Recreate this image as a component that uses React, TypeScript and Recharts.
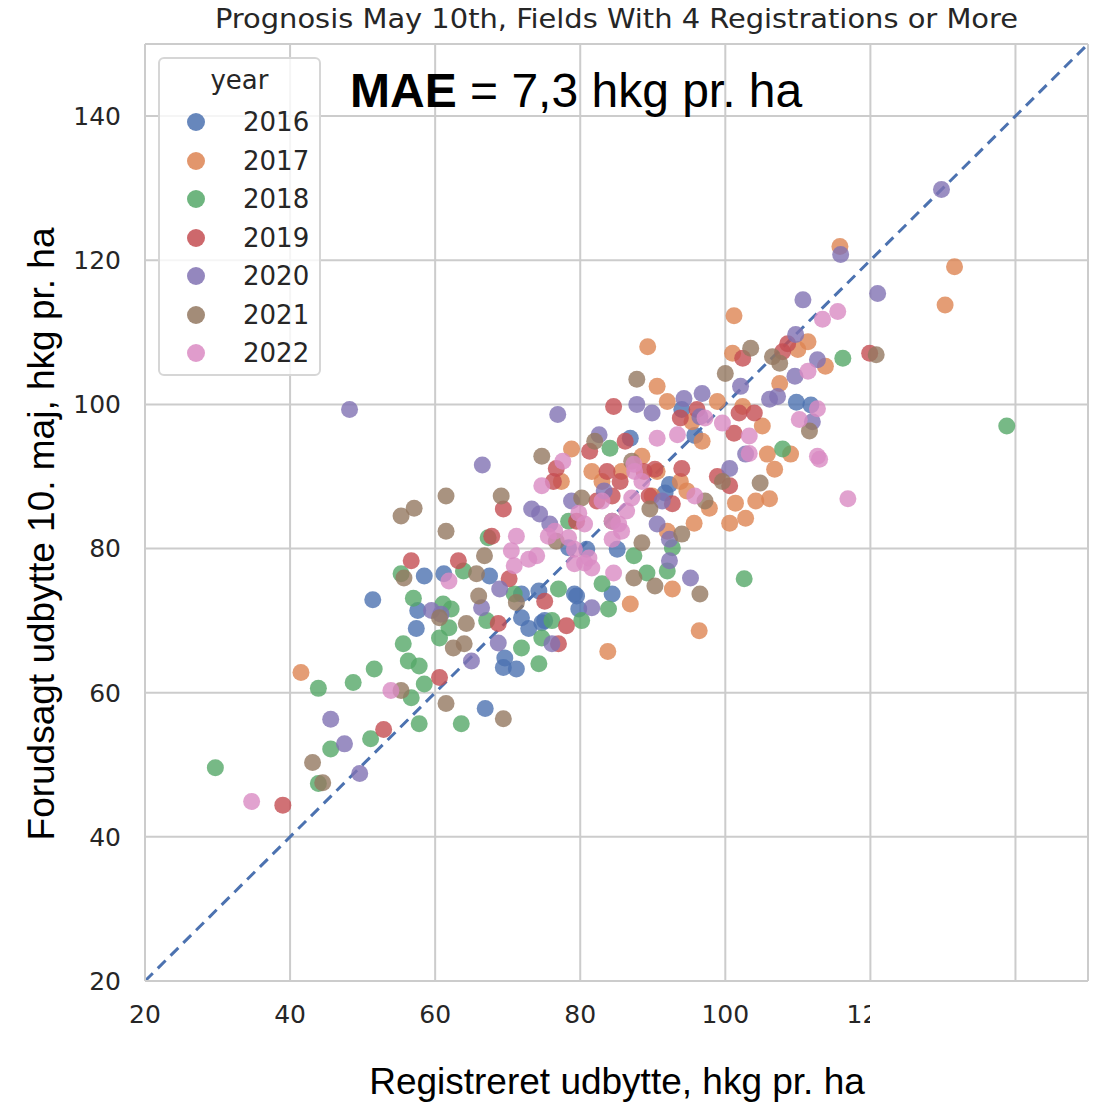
import React from 'react';
import { ScatterChart, Scatter, XAxis, YAxis, CartesianGrid, ReferenceLine, Legend } from 'recharts';

// registered yield (x) vs predicted yield on May 10th (y), hkg per ha
const y2016: [number, number][] = [
  [51.4, 72.9], [58.5, 76.2], [61.2, 76.5], [57.6, 71.4], [57.4, 68.9], [66.9, 57.8], [67.5, 76.2],
  [69.6, 64.8], [69.4, 63.5], [71.2, 63.3], [72.9, 68.9], [74.3, 74.1], [75.1, 70.0], [71.9, 70.4],
  [79.5, 73.4], [79.8, 71.6], [78.4, 80.1], [85.1, 79.9], [86.9, 95.3], [92.3, 88.9], [91.7, 87.7],
  [84.4, 73.7], [79.2, 73.7], [95.8, 95.7], [109.8, 100.3], [111.8, 99.9], [80.9, 79.9], [71.9, 73.7],
  [74.7, 69.7], [94.0, 99.3],
];
const y2017: [number, number][] = [
  [41.5, 62.8], [83.8, 65.7], [96.4, 68.6], [86.9, 72.3], [92.7, 74.4], [78.8, 93.8], [89.3, 108.0],
  [90.6, 102.5], [92.0, 100.4], [98.9, 100.4], [101.2, 112.3], [101.0, 107.1], [111.4, 108.7],
  [110.0, 107.6], [107.5, 102.9], [105.8, 93.1], [109.0, 93.1], [106.8, 91.0], [113.8, 105.3],
  [115.8, 121.9], [131.6, 119.1], [130.3, 113.8], [95.7, 83.5], [100.6, 83.5], [102.8, 84.2],
  [101.4, 86.3], [97.8, 85.6], [93.8, 89.3], [90.6, 90.7], [88.5, 92.8], [95.4, 97.6], [96.8, 94.9],
  [83.0, 89.3], [85.7, 90.7], [81.6, 90.7], [94.7, 88.0], [89.9, 87.3], [77.4, 89.3], [102.4, 99.7],
  [105.1, 97.0], [92.0, 82.4], [106.1, 86.9], [104.2, 86.6],
];
const y2018: [number, number][] = [
  [29.7, 49.6], [43.9, 47.4], [45.6, 52.2], [43.9, 60.6], [48.7, 61.4], [51.6, 63.3], [51.1, 53.6],
  [56.7, 59.3], [58.5, 61.2], [57.8, 55.7], [63.6, 55.7], [56.3, 64.4], [57.8, 63.7], [55.6, 66.8],
  [57.0, 73.1], [55.3, 76.5], [61.1, 72.3], [62.2, 71.6], [60.6, 67.6], [61.9, 69.0], [63.9, 76.9],
  [67.1, 70.0], [67.3, 81.5], [71.9, 66.2], [74.3, 64.0], [70.9, 73.7], [77.0, 74.4], [80.2, 70.0],
  [78.4, 83.8], [83.0, 75.1], [83.9, 71.6], [74.7, 67.6], [87.4, 79.0], [89.2, 76.6], [92.0, 76.9],
  [102.6, 75.8], [138.8, 97.0], [116.2, 106.4], [107.9, 93.8], [84.1, 93.9], [92.7, 80.1], [76.1, 70.0],
];
const y2019: [number, number][] = [
  [39.0, 44.4], [52.9, 54.9], [60.6, 62.1], [56.7, 78.3], [63.2, 78.3], [67.8, 81.7], [68.7, 69.6],
  [70.2, 75.8], [77.0, 66.8], [78.1, 69.3], [75.1, 72.7], [69.4, 85.5], [81.3, 93.5], [83.7, 90.7],
  [82.3, 86.6], [85.5, 89.3], [86.2, 94.9], [88.8, 90.7], [89.5, 87.3], [92.7, 86.2], [101.2, 96.0],
  [98.9, 90.0], [90.3, 91.0], [94.0, 91.1], [84.4, 87.3], [84.6, 99.7], [102.4, 106.4], [104.0, 98.8],
  [93.8, 98.1], [96.1, 99.3], [108.6, 108.4], [107.9, 107.3], [119.9, 107.1], [79.5, 83.8],
  [76.7, 91.1], [76.3, 89.3], [100.6, 88.7], [101.9, 98.8],
];
const y2020: [number, number][] = [
  [48.2, 99.3], [45.6, 56.3], [47.5, 52.9], [49.6, 48.8], [66.5, 91.6], [76.9, 98.6], [129.8, 129.8],
  [115.9, 120.8], [121.0, 115.4], [110.7, 114.5], [109.7, 109.7], [112.7, 106.2], [109.6, 103.9],
  [106.1, 100.7], [107.2, 101.1], [112.0, 97.6], [102.1, 102.5], [96.8, 101.5], [94.3, 100.8],
  [87.8, 100.0], [89.9, 98.8], [82.6, 95.8], [91.3, 86.6], [90.6, 83.4], [92.3, 81.3], [92.3, 78.3],
  [95.2, 75.9], [100.6, 91.1], [78.8, 86.6], [81.6, 71.8], [59.5, 71.4], [60.8, 70.9], [66.4, 71.8],
  [68.9, 74.4], [68.7, 66.9], [65.0, 64.4], [73.3, 85.5], [75.8, 83.4], [76.1, 66.8], [102.8, 93.1],
  [96.5, 98.3], [83.3, 88.0], [74.4, 84.8],
];
const y2021: [number, number][] = [
  [55.3, 84.5], [57.1, 85.6], [61.5, 87.3], [61.5, 82.4], [69.1, 87.3], [55.7, 75.9], [60.6, 70.4],
  [64.3, 69.6], [62.5, 66.2], [64.0, 66.8], [66.0, 73.4], [65.7, 76.5], [66.8, 79.0], [71.2, 72.5],
  [80.2, 87.0], [82.0, 94.9], [89.6, 85.5], [88.5, 80.8], [94.0, 82.0], [87.4, 75.9], [90.3, 74.8],
  [96.5, 73.7], [99.6, 89.3], [104.8, 89.1], [87.8, 103.5], [100.0, 104.3], [103.5, 107.8],
  [106.5, 106.6], [107.5, 105.7], [120.8, 106.9], [111.6, 96.3], [74.7, 92.8], [61.5, 58.5],
  [69.4, 56.4], [55.3, 60.3], [43.1, 50.3], [44.5, 47.5], [87.1, 92.1], [84.4, 83.8], [76.7, 81.0],
  [97.2, 86.6],
];
const y2022: [number, number][] = [
  [34.7, 44.9], [53.9, 60.3], [74.7, 88.7], [77.6, 92.1], [71.2, 81.7], [70.5, 79.7], [70.9, 77.6],
  [72.9, 78.5], [61.9, 75.5], [79.8, 84.9], [80.6, 83.4], [80.6, 78.0], [79.2, 79.9], [81.6, 77.3],
  [74.0, 79.0], [75.6, 81.7], [76.5, 82.4], [90.6, 95.3], [93.4, 95.8], [87.5, 90.7], [87.1, 87.0],
  [86.4, 85.2], [95.8, 87.3], [84.4, 83.8], [85.7, 82.4], [84.4, 81.3], [81.2, 78.7], [79.2, 77.9],
  [78.4, 81.5], [84.6, 76.6], [103.3, 93.2], [99.6, 97.4], [103.3, 95.6], [97.2, 98.1], [111.4, 104.6],
  [110.2, 97.9], [112.7, 92.8], [115.5, 112.9], [113.4, 111.8], [113.0, 92.4], [116.9, 86.9],
  [112.7, 99.4], [88.5, 89.3], [83.0, 86.6], [87.4, 91.7], [85.3, 83.4],
];

const years = ['2016', '2017', '2018', '2019', '2020', '2021', '2022'];
const yearValues = [y2016, y2017, y2018, y2019, y2020, y2021, y2022];
const palette = ['#4c72b0', '#dd8452', '#55a868', '#c44e52', '#8172b3', '#937860', '#da8bc3'];
const axisTicks = [20, 40, 60, 80, 100, 120, 140];

const tickFont = { fontFamily: 'DejaVu Sans, sans-serif', fontSize: 25, fill: '#262626' };
const labelFont = 'Liberation Sans, Arial, sans-serif';

const LegendBox = () => (
  <div style={{
    position: 'relative', width: 163, height: 319, boxSizing: 'border-box',
    background: 'rgba(255,255,255,0.8)', border: '2px solid #d6d6d6', borderRadius: 6,
    fontFamily: 'DejaVu Sans, sans-serif', fontSize: 26, color: '#262626',
  }}>
    <div style={{ position: 'absolute', left: 0, width: '100%', top: 5, textAlign: 'center', lineHeight: '32px' }}>year</div>
    {years.map((yr, i) => (
      <div key={yr} style={{ position: 'absolute', left: 0, top: 47 + i * 38.5, height: 32, width: '100%' }}>
        <span style={{
          position: 'absolute', left: 27, top: 7, width: 18, height: 18, borderRadius: 9,
          background: palette[i], opacity: 0.85,
        }} />
        <span style={{ position: 'absolute', left: 83, top: 0, lineHeight: '32px' }}>{yr}</span>
      </div>
    ))}
  </div>
);

export default function App() {
  return (
    <div style={{ position: 'absolute', left: 0, top: 0, width: 1099, height: 1102, background: '#fff' }}>
      <ScatterChart width={1099} height={1102} margin={{ top: 44, right: 11, bottom: 81, left: 85 }}>
        <CartesianGrid stroke="#cccccc" strokeWidth={2} />
        <XAxis
          type="number" dataKey="x" domain={[20, 150]} ticks={axisTicks} allowDataOverflow
          height={40} axisLine={{ stroke: '#cccccc', strokeWidth: 2 }} tickLine={false}
          tickSize={0} tickMargin={24} tick={tickFont} interval={0}
        />
        <YAxis
          type="number" dataKey="y" domain={[20, 150]} ticks={axisTicks} allowDataOverflow
          width={60} axisLine={{ stroke: '#cccccc', strokeWidth: 2 }} tickLine={false}
          tickSize={0} tickMargin={24} tick={tickFont} interval={0}
        />
        <ReferenceLine x={150} stroke="#cccccc" strokeWidth={2} />
        <ReferenceLine y={150} stroke="#cccccc" strokeWidth={2} />
        {years.map((yr, i) => (
          <Scatter
            key={yr}
            name={yr}
            data={yearValues[i].map(([x, y]) => ({ x, y }))}
            isAnimationActive={false}
            shape={(p: any) => <circle cx={p.cx} cy={p.cy} r={8.5} fill={palette[i]} fillOpacity={0.8} />}
          />
        ))}
        <ReferenceLine
          segment={[{ x: 20, y: 20 }, { x: 150, y: 150 }]}
          stroke="#4c72b0" strokeWidth={3} strokeDasharray="11 7"
        />
        <Legend
          layout="vertical" align="center" verticalAlign="middle"
          content={() => <LegendBox />}
          wrapperStyle={{ position: 'absolute', left: 158, top: 57, width: 163, height: 319 }}
        />
      </ScatterChart>

      {/* cover for the clipped tick labels at the right of the x axis */}
      <div style={{ position: 'absolute', left: 870, top: 992, width: 229, height: 50, background: '#fff' }} />

      <svg width={1099} height={40} style={{ position: 'absolute', left: 0, top: 0 }}>
        <text
          x={616.5} y={28} textAnchor="middle" textLength={803} lengthAdjust="spacingAndGlyphs"
          fontFamily="DejaVu Sans Condensed, DejaVu Sans, sans-serif" fontSize={27} fill="#262626"
        >
          Prognosis May 10th, Fields With 4 Registrations or More
        </text>
      </svg>
      <div style={{
        position: 'absolute', left: 350, top: 64, fontFamily: labelFont, fontSize: 48, color: '#000',
        lineHeight: '54px', whiteSpace: 'nowrap',
      }}>
        <b>MAE</b> = 7,3 hkg pr. ha
      </div>
      <div style={{
        position: 'absolute', left: 0, width: 1234, top: 1060, textAlign: 'center',
        fontFamily: labelFont, fontSize: 37, color: '#000', lineHeight: '44px',
      }}>
        Registreret udbytte, hkg pr. ha
      </div>
      <div style={{ position: 'absolute', left: 42, top: 534, width: 0, height: 0 }}>
        <div style={{
          position: 'absolute', left: 0, top: 0, transform: 'translate(-50%, -50%) rotate(-90deg)',
          fontFamily: labelFont, fontSize: 37, color: '#000', whiteSpace: 'nowrap', lineHeight: '44px',
        }}>
          Forudsagt udbytte 10. maj, hkg pr. ha
        </div>
      </div>
    </div>
  );
}
